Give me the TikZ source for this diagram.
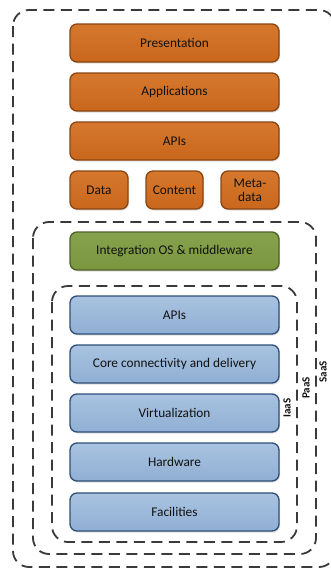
\documentclass[tikz,border=0pt]{standalone}
\usepackage{fontspec}
\setmainfont{Carlito}
\usetikzlibrary{shadows}
\definecolor{orfill}{HTML}{C9671C}
\definecolor{ortop}{HTML}{D5782E}
\definecolor{ordraw}{HTML}{8A4612}
\definecolor{grfill}{HTML}{7A963F}
\definecolor{grtop}{HTML}{86A24C}
\definecolor{grdraw}{HTML}{4F6228}
\definecolor{blfill}{HTML}{90AFD4}
\definecolor{bltop}{HTML}{A9C3E0}
\definecolor{bldraw}{HTML}{2F4F78}
\definecolor{dashcol}{HTML}{3A3A3A}
\definecolor{txt}{HTML}{111111}
\tikzset{
  layer/.style={rounded corners=7pt, line width=1.3pt, font=\fontsize{13.3}{14}\selectfont, text=txt,
    drop shadow={shadow xshift=1pt, shadow yshift=-1.5pt, opacity=0.25}, align=center},
  orbox/.style={layer, draw=ordraw, top color=ortop, bottom color=orfill},
  grbox/.style={layer, draw=grdraw, top color=grtop, bottom color=grfill},
  blbox/.style={layer, draw=bldraw, top color=bltop, bottom color=blfill},
  zone/.style={draw=dashcol, line width=1.8pt, dash pattern=on 11pt off 6.5pt, rounded corners=16pt},
  svc/.style={font=\bfseries\fontsize{11}{12}\selectfont, rotate=90, text=txt, inner sep=1pt}
}
\begin{document}
\begin{tikzpicture}[x=1pt,y=-1pt]
\useasboundingbox (0,0) rectangle (330,570);
\fill[white] (0,0) rectangle (330,570);
% dashed zones
\draw[zone] (13,10) rectangle (335,567);
\draw[zone] (33,222) rectangle (316,554);
\draw[zone] (52,286) rectangle (297,542);
% orange layers
\node[orbox, minimum width=209pt, minimum height=38pt] (pres) at (174.5,43) {Presentation};
\node[orbox, minimum width=209pt, minimum height=38pt] (apps) at (174.5,92) {Applications};
\node[orbox, minimum width=209pt, minimum height=38pt] (apis1) at (174.5,141) {APIs};
\node[orbox, minimum width=58pt, minimum height=38pt, inner sep=1pt] (data) at (99,190) {Data};
\node[orbox, minimum width=57pt, minimum height=38pt, inner sep=1pt] (content) at (174.5,190) {Content};
\node[orbox, minimum width=58pt, minimum height=38pt, inner sep=1pt, font=\fontsize{13.3}{14}\selectfont] (meta) at (250,190) {Meta-\\data};
% green
\node[grbox, minimum width=209pt, minimum height=38pt] (integ) at (174.5,251) {Integration OS \& middleware};
% blue layers
\node[blbox, minimum width=209pt, minimum height=38pt] (apis2) at (174.5,315) {APIs};
\node[blbox, minimum width=209pt, minimum height=38pt] (core) at (174.5,364) {Core connectivity and delivery};
\node[blbox, minimum width=209pt, minimum height=38pt] (virt) at (174.5,413) {Virtualization};
\node[blbox, minimum width=209pt, minimum height=38pt] (hw) at (174.5,462) {Hardware};
\node[blbox, minimum width=209pt, minimum height=38pt] (fac) at (174.5,512) {Facilities};
% service labels
\node[svc, fill=white] (iaas) at (287,408) {IaaS};
\node[svc, fill=white] (paas) at (306,388) {PaaS};
\node[svc, fill=white] (saas) at (323,372) {SaaS};
\end{tikzpicture}
\end{document}
